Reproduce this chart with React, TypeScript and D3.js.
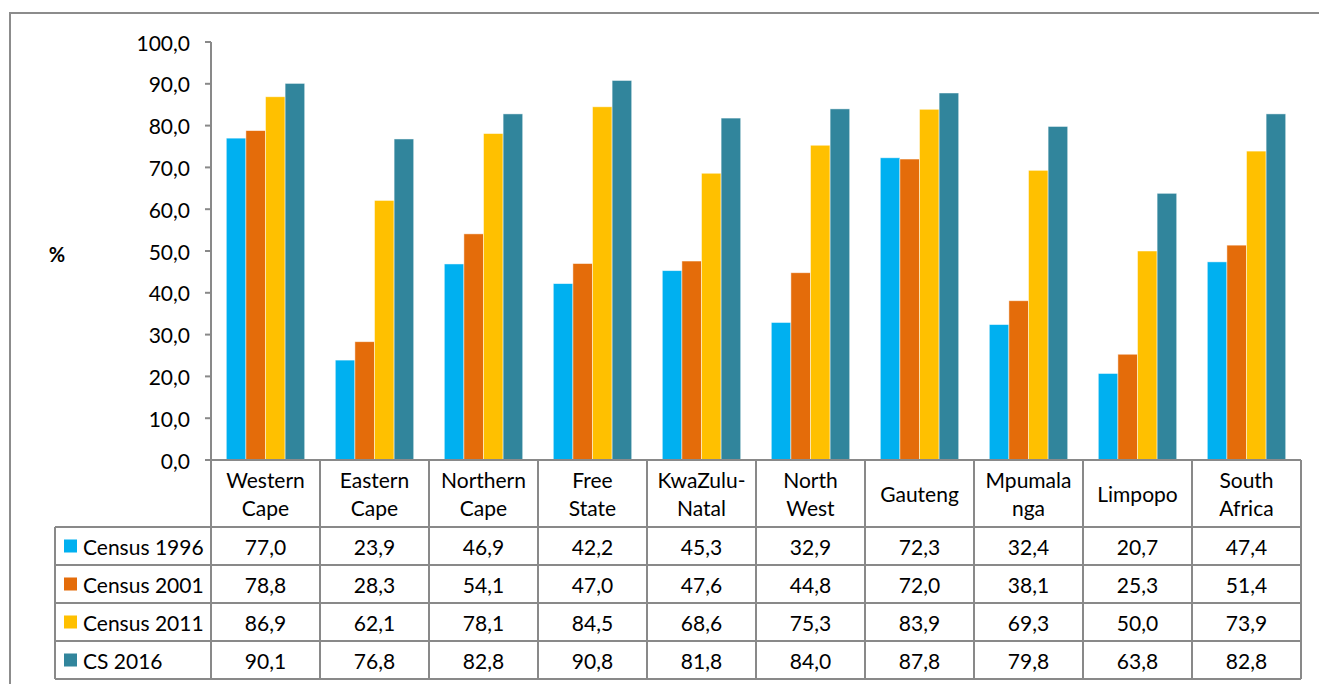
import React from "react";
import * as d3 from "d3";

const categories = [
  ["Western", "Cape"],
  ["Eastern", "Cape"],
  ["Northern", "Cape"],
  ["Free", "State"],
  ["KwaZulu-", "Natal"],
  ["North", "West"],
  ["Gauteng"],
  ["Mpumala", "nga"],
  ["Limpopo"],
  ["South", "Africa"],
];
const seriesNames = ["Census 1996", "Census 2001", "Census 2011", "CS 2016"];
const census1996 = [77.0, 23.9, 46.9, 42.2, 45.3, 32.9, 72.3, 32.4, 20.7, 47.4];
const census2001 = [78.8, 28.3, 54.1, 47.0, 47.6, 44.8, 72.0, 38.1, 25.3, 51.4];
const census2011 = [86.9, 62.1, 78.1, 84.5, 68.6, 75.3, 83.9, 69.3, 50.0, 73.9];
const cs2016 = [90.1, 76.8, 82.8, 90.8, 81.8, 84.0, 87.8, 79.8, 63.8, 82.8];
const yTicks = [0, 10, 20, 30, 40, 50, 60, 70, 80, 90, 100];
const colors = ["#00B0F0", "#E46C0A", "#FFC000", "#31859C"];

const seriesValues = [census1996, census2001, census2011, cs2016];

const W = 1319;
const H = 684;
const plotLeft = 211;
const plotRight = 1301;
const plotTop = 42;
const plotBottom = 460;
const headerBottom = 527;
const rowH = 38;
const legendLeft = 55;
const font = "Lato, 'Open Sans', sans-serif";
const grey = "#898989";
const fs = 21;

const fmt = (v: number) => v.toFixed(1).replace(".", ",");

export default function App() {
  const idx = categories.map((_, i) => String(i));
  const x = d3.scaleBand<string>().domain(idx).range([plotLeft, plotRight]);
  const x1 = d3
    .scaleBand<string>()
    .domain(seriesNames)
    .range([0, x.bandwidth()])
    .paddingInner(0)
    .paddingOuter(0.78);
  const y = d3.scaleLinear().domain([0, 100]).range([plotBottom, plotTop]);

  const rowsTop = headerBottom;
  const tableBottom = rowsTop + rowH * seriesNames.length;

  return (
    <svg
      width={W}
      height={H}
      style={{ position: "absolute", left: 0, top: 0, background: "#fff" }}
      fontFamily={font}
    >
      <rect x={10} y={13} width={W + 20} height={H + 20} fill="none" stroke="#8c8c8c" strokeWidth={2} />

      {/* % label */}
      <text x={57} y={254} fontSize={20} fontWeight="bold" textAnchor="middle" dominantBaseline="central" fill="#000">
        %
      </text>

      {/* y axis */}
      <line x1={plotLeft} x2={plotLeft} y1={plotTop} y2={plotBottom} stroke={grey} strokeWidth={2} />
      {yTicks.map((t) => (
        <g key={t}>
          <line x1={plotLeft - 6} x2={plotLeft} y1={y(t)} y2={y(t)} stroke={grey} strokeWidth={2} />
          <text x={190} y={y(t)} fontSize={fs} textAnchor="end" dominantBaseline="central" fill="#000">
            {fmt(t)}
          </text>
        </g>
      ))}

      {/* bars */}
      {idx.map((c, i) => (
        <g key={c} transform={`translate(${x(c)},0)`}>
          {seriesNames.map((s, j) => {
            const v = seriesValues[j][i];
            return (
              <rect
                key={s}
                x={x1(s)}
                y={y(v)}
                width={x1.bandwidth()}
                height={y(0) - y(v)}
                fill={colors[j]}
                stroke="#ffffff"
                strokeOpacity={0.6}
                strokeWidth={0.8}
              />
            );
          })}
        </g>
      ))}

      {/* table grid */}
      <g stroke={grey} strokeWidth={2} fill="none">
        <line x1={plotLeft} x2={plotRight} y1={plotBottom} y2={plotBottom} />
        {idx.map((c) => (
          <line key={c} x1={x(c)} x2={x(c)} y1={plotBottom} y2={tableBottom} />
        ))}
        <line x1={plotRight} x2={plotRight} y1={plotBottom} y2={tableBottom} />
        <line x1={legendLeft} x2={legendLeft} y1={rowsTop} y2={tableBottom} />
        {d3.range(seriesNames.length + 1).map((k) => (
          <line key={k} x1={legendLeft} x2={plotRight} y1={rowsTop + k * rowH} y2={rowsTop + k * rowH} />
        ))}
      </g>

      {/* header */}
      {idx.map((c, i) => {
        const lines = categories[i];
        const cx = (x(c) as number) + x.bandwidth() / 2;
        const mid = (plotBottom + headerBottom) / 2;
        return (
          <text key={c} fontSize={fs} textAnchor="middle" fill="#000">
            {lines.map((l, k) => (
              <tspan
                key={k}
                x={cx}
                y={mid + (k - (lines.length - 1) / 2) * 28}
                dominantBaseline="central"
              >
                {l}
              </tspan>
            ))}
          </text>
        );
      })}

      {/* rows */}
      {seriesNames.map((s, j) => {
        const cy = rowsTop + j * rowH + rowH / 2;
        return (
          <g key={s}>
            <rect x={64} y={cy - 6.5} width={13} height={13} fill={colors[j]} />
            <text x={83} y={cy} fontSize={fs} dominantBaseline="central" fill="#000">
              {s}
            </text>
            {idx.map((c, i) => (
              <text
                key={c}
                x={(x(c) as number) + x.bandwidth() / 2}
                y={cy}
                fontSize={fs}
                textAnchor="middle"
                dominantBaseline="central"
                fill="#000"
              >
                {fmt(seriesValues[j][i])}
              </text>
            ))}
          </g>
        );
      })}
    </svg>
  );
}
